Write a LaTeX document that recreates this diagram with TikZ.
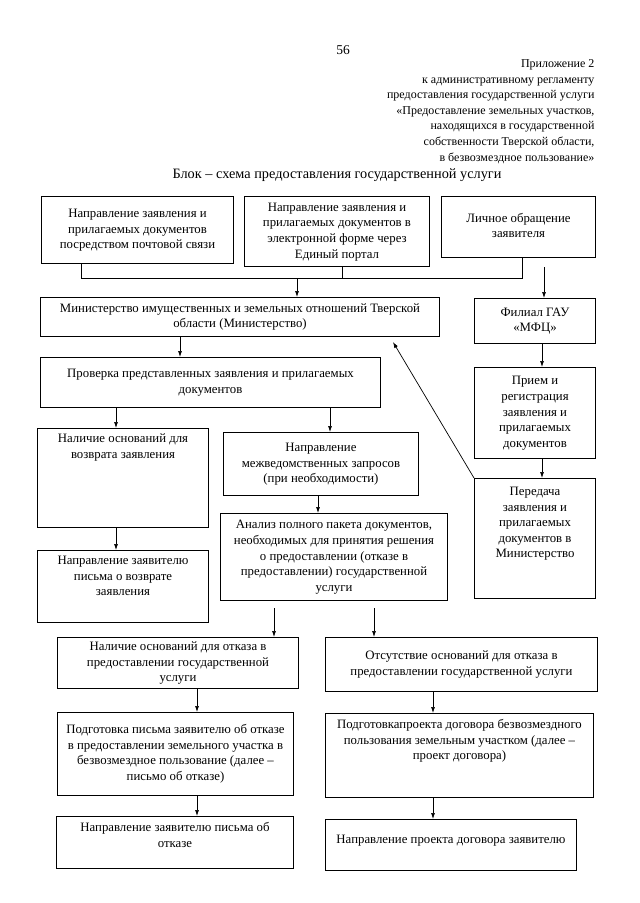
\documentclass[tikz,border=0pt]{standalone}
\usepackage{fontspec}
\setmainfont{Liberation Serif}
\usetikzlibrary{arrows.meta}
\newcommand\bxc[5]{\node[box] (#1) at (#2) {\parbox[c][#4pt][c]{#3pt}{\centering\makebox[#3pt]{\begin{tabular}{@{}c@{}}#5\end{tabular}}}};}
\newcommand\bxt[6]{\node[box] (#1) at (#2) {\parbox[c][#4pt][t]{#3pt}{\vspace*{#5pt}\centering\makebox[#3pt]{\begin{tabular}{@{}c@{}}#6\end{tabular}}}};}
\begin{document}
\begin{tikzpicture}[x=1pt,y=-1pt,
  box/.style={draw, line width=1pt, anchor=north west, inner sep=0pt, font=\fontsize{12.8}{15.6}\selectfont},
  ln/.style={line width=0.7pt},
  arr/.style={ln, -{Latex[length=6pt,width=4pt]}}]
\useasboundingbox (0,0) rectangle (640,903);
\fill[white] (0,0) rectangle (640,903);

\node[font=\fontsize{13.5}{15}\selectfont] (pg) at (343,50) {56};
\node[anchor=north east, align=right, font=\fontsize{12}{15.6}\selectfont] (hdr) at (598,56)
 {Приложение 2\\к административному регламенту\\предоставления государственной услуги\\«Предоставление земельных участков,\\находящихся в государственной\\собственности Тверской области,\\в безвозмездное пользование»};
\node[font=\fontsize{14.3}{16}\selectfont] (title) at (337,175) {Блок – схема предоставления государственной услуги};

% top row
\bxc{a}{41,196}{192}{67}{Направление заявления и\\прилагаемых документов\\посредством почтовой связи}
\bxc{b}{244,196}{185}{70}{Направление заявления и\\прилагаемых документов в\\электронной форме через\\Единый портал}
\bxc{c}{441,196}{154}{61}{Личное обращение\\заявителя}

\bxc{min}{40,297}{399}{39}{Министерство имущественных и земельных отношений Тверской\\области (Министерство)}
\bxc{fil}{474,298}{121}{45}{Филиал ГАУ\\«МФЦ»}
\bxc{chk}{40,357}{340}{50}{Проверка представленных заявления и прилагаемых\\документов}
\bxc{reg}{474,367}{121}{91}{Прием и\\регистрация\\заявления и\\прилагаемых\\документов}
\bxt{pass}{474,478}{121}{120}{6}{Передача\\заявления и\\прилагаемых\\документов в\\Министерство}
\bxt{ret}{37,428}{171}{99}{3}{Наличие оснований для\\возврата заявления}
\bxc{req}{223,432}{195}{63}{Направление\\межведомственных запросов\\(при необходимости)}
\bxt{retl}{37,550}{171}{72}{3}{Направление заявителю\\письма о возврате\\заявления}
\bxc{an}{220,513}{227}{87}{Анализ полного пакета документов,\\необходимых для принятия решения\\о предоставлении (отказе в\\предоставлении) государственной\\услуги}
\bxc{ref}{57,637}{241}{51}{Наличие оснований для отказа в\\предоставлении государственной\\услуги}
\bxc{nref}{325,637}{272}{54}{Отсутствие оснований для отказа в\\предоставлении государственной услуги}
\bxc{refl}{57,712}{236}{83}{Подготовка письма заявителю об отказе\\в предоставлении земельного участка в\\безвозмездное пользование (далее –\\письмо об отказе)}
\bxt{proj}{325,713}{268}{84}{4}{Подготовкапроекта договора безвозмездного\\пользования земельным участком (далее –\\проект договора)}
\bxt{refs}{56,816}{237}{52}{4}{Направление заявителю письма об\\отказе}
\bxt{projs}{325,819}{251}{51}{13}{Направление проекта договора заявителю}

% collector lines
\coordinate (j1) at (81,278);
\coordinate (j2) at (297,278);
\coordinate (j3) at (342,278);
\coordinate (j4) at (522,278);
\draw[ln] (a.south -| j1) -- (j1) -- (j4) -- (c.south -| j4);
\draw[ln] (b.south -| j3) -- (j3);
\draw[arr] (j2) -- (min.north -| j2);
\coordinate (c1) at (544,267);
\draw[arr] (c1) -- (fil.north -| c1);

\coordinate (x1) at (180,0);
\draw[arr] (min.south -| x1) -- (chk.north -| x1);
\coordinate (x2) at (116,0);
\draw[arr] (chk.south -| x2) -- (ret.north -| x2);
\draw[arr] (ret.south -| x2) -- (retl.north -| x2);
\coordinate (x3) at (330,0);
\draw[arr] (chk.south -| x3) -- (req.north -| x3);
\coordinate (x4) at (318,0);
\draw[arr] (req.south -| x4) -- (an.north -| x4);
\coordinate (x5) at (542,0);
\draw[arr] (fil.south -| x5) -- (reg.north -| x5);
\draw[arr] (reg.south -| x5) -- (pass.north -| x5);
\coordinate (m1) at (393,342);
\draw[arr] (pass.north west) -- (m1);
\coordinate (x6) at (274,0);
\coordinate (x7) at (374,0);
\draw[arr, shorten <=7pt] (an.south -| x6) -- (ref.north -| x6);
\draw[arr, shorten <=7pt] (an.south -| x7) -- (nref.north -| x7);
\coordinate (x8) at (197,0);
\coordinate (x9) at (433,0);
\draw[arr] (ref.south -| x8) -- (refl.north -| x8);
\draw[arr] (nref.south -| x9) -- (proj.north -| x9);
\draw[arr] (refl.south -| x8) -- (refs.north -| x8);
\draw[arr] (proj.south -| x9) -- (projs.north -| x9);
\end{tikzpicture}
\end{document}
